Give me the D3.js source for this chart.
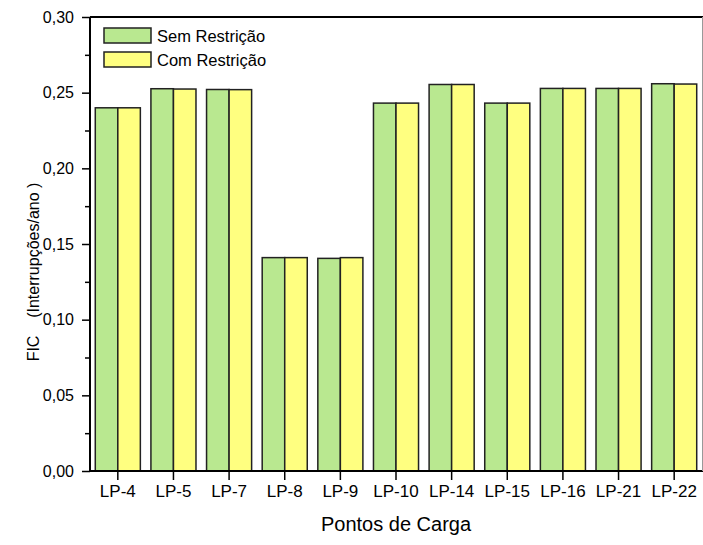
<!DOCTYPE html>
<html>
<head>
<meta charset="utf-8">
<script src="https://cdn.jsdelivr.net/npm/d3@7"></script>
<style>
  body { margin: 0; background: #fff; }
  svg { display: block; font-family: Arial, "Liberation Sans", sans-serif; }
</style>
</head>
<body>
<div id="chart"></div>
<script>
// data
const categories = ["LP-4", "LP-5", "LP-7", "LP-8", "LP-9", "LP-10", "LP-14", "LP-15", "LP-16", "LP-21", "LP-22"];
const semRestricao = [0.240, 0.2526, 0.2521, 0.141, 0.1405, 0.2431, 0.2554, 0.2431, 0.2528, 0.2528, 0.2559];
const comRestricao = [0.240, 0.2524, 0.2520, 0.141, 0.1410, 0.2431, 0.2554, 0.2431, 0.2528, 0.2528, 0.2557];
const seriesNames = ["Sem Restrição", "Com Restrição"];
const yTicks = [0, 0.05, 0.10, 0.15, 0.20, 0.25, 0.30];

const W = 703, H = 545;
const margin = { top: 17, right: 1, bottom: 74, left: 90 };
const innerW = W - margin.left - margin.right,
      innerH = H - margin.top - margin.bottom;

const colors = ["#b9e890", "#ffff80"];

const svg = d3.select("#chart").append("svg")
  .attr("width", W)
  .attr("height", H);

const g = svg.append("g")
  .attr("transform", "translate(" + margin.left + "," + margin.top + ")");

const x = d3.scaleBand()
  .domain(categories)
  .range([0, innerW])
  .paddingInner(0.19)
  .paddingOuter(0.095);

const xSub = d3.scaleBand()
  .domain([0, 1])
  .range([0, x.bandwidth()]);

const y = d3.scaleLinear()
  .domain([0, 0.30])
  .range([innerH, 0]);

// bars
const rows = categories.map((c, i) => ({ cat: c, vals: [semRestricao[i], comRestricao[i]] }));

const group = g.selectAll("g.grp")
  .data(rows)
  .enter().append("g")
  .attr("class", "grp")
  .attr("transform", d => "translate(" + x(d.cat) + ",0)");

group.selectAll("rect")
  .data(d => d.vals.map((v, k) => ({ v, k })))
  .enter().append("rect")
  .attr("x", d => xSub(d.k))
  .attr("y", d => y(d.v))
  .attr("width", xSub.bandwidth())
  .attr("height", d => innerH - y(d.v))
  .style("fill", d => colors[d.k])
  .style("stroke", "#222")
  .style("stroke-width", 1.5);

// left axis, major + minor ticks
const yAxis = g.append("g")
  .call(d3.axisLeft(y)
    .tickValues(yTicks)
    .tickSize(8)
    .tickPadding(8)
    .tickFormat(d => d3.format(".2f")(d).replace(".", ",")));
yAxis.select(".domain").remove();
yAxis.selectAll("text").style("font-size", "16px").attr("fill", "#000");
yAxis.selectAll("line").attr("stroke", "#000").attr("stroke-width", 1.5);

const minor = d3.range(0.025, 0.30, 0.05);
g.append("g")
  .call(d3.axisLeft(y).tickValues(minor).tickSize(5).tickFormat(""))
  .call(a => a.select(".domain").remove())
  .selectAll("line").attr("stroke", "#000").attr("stroke-width", 1.5);

// bottom axis
const xAxis = g.append("g")
  .attr("transform", "translate(0," + innerH + ")")
  .call(d3.axisBottom(x).tickSize(9).tickPadding(5));
xAxis.select(".domain").remove();
xAxis.selectAll("text").style("font-size", "17px").attr("fill", "#000");
xAxis.selectAll("line").attr("stroke", "#000").attr("stroke-width", 1.5);

// frame
g.append("line").attr("x1", 0).attr("x2", 0).attr("y1", 0).attr("y2", innerH)
  .attr("stroke", "#000").attr("stroke-width", 2);
g.append("line").attr("x1", 0).attr("x2", innerW + 1).attr("y1", innerH).attr("y2", innerH)
  .attr("stroke", "#000").attr("stroke-width", 2);
g.append("line").attr("x1", 0).attr("x2", innerW + 1).attr("y1", 0).attr("y2", 0)
  .attr("stroke", "#000").attr("stroke-width", 2);
g.append("line").attr("x1", innerW + 0.5).attr("x2", innerW + 0.5).attr("y1", 0).attr("y2", innerH)
  .attr("stroke", "#999").attr("stroke-width", 1);

// axis titles
svg.append("text")
  .attr("x", margin.left + innerW / 2)
  .attr("y", 531)
  .attr("text-anchor", "middle")
  .style("font-size", "20px")
  .text("Pontos de Carga");

svg.append("text")
  .attr("transform", "translate(39,272) rotate(-90)")
  .attr("text-anchor", "middle")
  .style("font-size", "16px")
  .style("white-space", "pre")
  .text("FIC    (Interrupções/ano )");

// legend
const legend = svg.append("g").attr("transform", "translate(104,28)");
seriesNames.forEach((name, i) => {
  const row = legend.append("g").attr("transform", "translate(0," + (i * 24) + ")");
  row.append("rect")
    .attr("width", 47).attr("height", 15)
    .style("fill", colors[i])
    .style("stroke", "#222")
    .style("stroke-width", 1.5);
  row.append("text")
    .attr("x", 53).attr("y", 14)
    .style("font-size", "16.5px")
    .text(name);
});
</script>
</body>
</html>
